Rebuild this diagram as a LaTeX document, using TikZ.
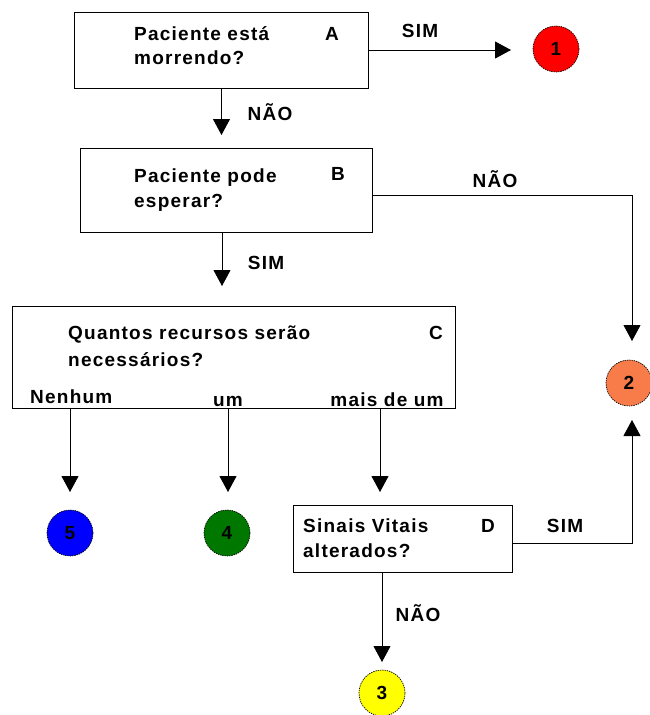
\documentclass[tikz,border=0pt]{standalone}
\usepackage{fontspec}
\setmainfont{Liberation Sans}[LetterSpace=6.5]
\usetikzlibrary{arrows.meta}
\definecolor{stred}{RGB}{255,0,0}
\definecolor{storange}{RGB}{247,124,74}
\definecolor{styellow}{RGB}{255,255,0}
\definecolor{stgreen}{RGB}{0,120,0}
\definecolor{stblue}{RGB}{0,0,255}
\begin{document}
\begin{tikzpicture}[x=1pt,y=-1pt,
  qbox/.style={draw, line width=0.8pt, inner sep=0pt},
  txt/.style={anchor=base west, inner sep=0pt, font=\fontsize{19}{22}\selectfont\bfseries},
  lbl/.style={anchor=base, inner sep=0pt, font=\fontsize{19}{22}\selectfont\bfseries},
  arr/.style={draw, line width=0.9pt, -{Triangle[length=16pt,width=17pt]}},
  state/.style={circle, draw, dash pattern=on 1.3pt off 1pt, line width=0.7pt,
    minimum size=46pt, inner sep=0pt, font=\fontsize{19}{21}\selectfont\bfseries}]
\useasboundingbox (0,0) rectangle (650,715);

% question boxes
\node[qbox, minimum width=294pt, minimum height=76pt] (A) at (221.5,50) {};
\node[qbox, minimum width=292pt, minimum height=84pt] (B) at (226,190) {};
\node[qbox, minimum width=443pt, minimum height=102pt] (C) at (233.5,357) {};
\node[qbox, minimum width=219pt, minimum height=67pt] (D) at (402.5,538.5) {};

% box texts
\node[txt] (tA1) at (134,40) {Paciente está};
\node[txt] (tA2) at (134,64) {morrendo?};
\node[lbl] (kA) at (332,40) {A};
\node[txt] (tB1) at (134,182) {Paciente pode};
\node[txt] (tB2) at (134,207) {esperar?};
\node[lbl] (kB) at (338,180) {B};
\node[txt] (tC1) at (68,339) {Quantos recursos serão};
\node[txt] (tC2) at (68,366) {necessários?};
\node[lbl] (kC) at (436,339) {C};
\node[txt] (oC1) at (30,403) {Nenhum};
\node[lbl] (oC2) at (228,406) {um};
\node[lbl] (oC3) at (387,406) {mais de um};
\node[txt] (tD1) at (303,532) {Sinais Vitais};
\node[txt] (tD2) at (303,557) {alterados?};
\node[lbl] (kD) at (488,532) {D};

% outcome circles
\node[state, fill=stred] (s1) at (556,49) {1};
\node[state, fill=storange] (s2) at (629,383) {2};
\node[state, fill=styellow] (s3) at (382,693) {3};
\node[state, fill=stgreen] (s4) at (227,533) {4};
\node[state, fill=stblue] (s5) at (70,533) {5};

% connector end points
\coordinate (eA1) at (511,50);
\coordinate (eAB) at (221.5,135);
\coordinate (sB) at (226,232);
\coordinate (eBC) at (222,286);
\coordinate (sB2) at (372,195);
\coordinate (eB2) at (632,341);
\coordinate (sC5) at (70,408);
\coordinate (eC5) at (70,492);
\coordinate (sC4) at (228,408);
\coordinate (eC4) at (228,492);
\coordinate (sCD) at (380,408);
\coordinate (eCD) at (380,492);
\coordinate (sD2) at (512,543);
\coordinate (eD2) at (632,420);
\coordinate (sD3) at (382,572);
\coordinate (eD3) at (382,662);

% connectors
\draw[arr] (A.east) -- (eA1);
\draw[arr] (A.south) -- (eAB);
\draw[arr] (sB -| eBC) -- (eBC);
\draw[arr] (sB2) -| (eB2);
\draw[arr] (sC5) -- (eC5);
\draw[arr] (sC4) -- (eC4);
\draw[arr] (sCD) -- (eCD);
\draw[arr] (sD2) -| (eD2);
\draw[arr] (sD3) -- (eD3);

% connector labels
\node[lbl] (lA1) at (420,37) {SIM};
\node[lbl] (lAB) at (270,120) {NÃO};
\node[lbl] (lB2) at (495,187) {NÃO};
\node[lbl] (lBC) at (266,269) {SIM};
\node[lbl] (lD2) at (565,532) {SIM};
\node[lbl] (lD3) at (418,621) {NÃO};
\end{tikzpicture}
\end{document}
